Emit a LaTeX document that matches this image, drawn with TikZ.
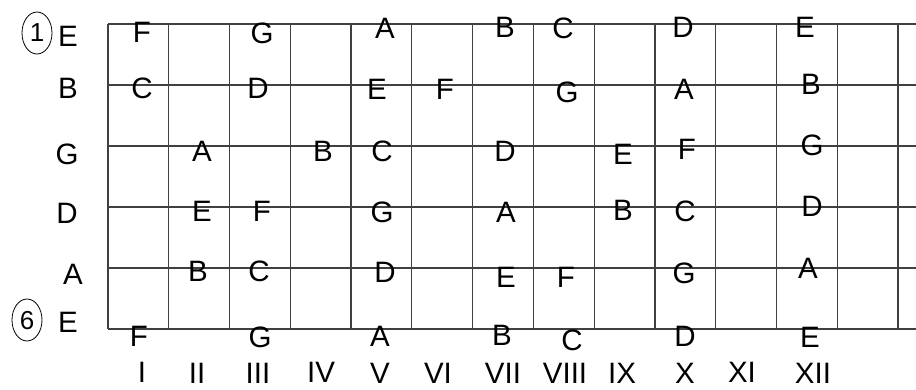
\documentclass[tikz,border=0pt]{standalone}
\usepackage{fontspec}
\setmainfont{Liberation Sans}
\begin{document}
\begin{tikzpicture}[x=1pt,y=-1pt,
  fret/.style={line width=1.2pt,draw=black!75},
  note/.style={inner sep=0pt,font=\fontsize{29.5}{29.5}\selectfont},
  strname/.style={inner sep=0pt,font=\fontsize{29.5}{29.5}\selectfont},
  num/.style={inner sep=0pt,font=\fontsize{26}{26}\selectfont},
  ring/.style={draw=black,line width=0.8pt}]
\useasboundingbox (0,0) rectangle (916,389);
% grid
\foreach \j in {0,...,5} \draw[fret] (108,24+61*\j) -- (916,24+61*\j);
\foreach \i in {0,...,13} \draw[fret] (108+60.77*\i,24) -- (108+60.77*\i,329);
% circled string numbers
\node[num] (one) at (37,33) {1};
\draw[ring] (37,33) ellipse [x radius=15, y radius=21];
\node[num] (six) at (27,321) {6};
\draw[ring] (27,320) ellipse [x radius=15, y radius=21];
% open strings
\node[strname] (s1) at (68,36) {E};
\node[strname] (s2) at (68,88) {B};
\node[strname] (s3) at (67,154) {G};
\node[strname] (s4) at (67,213) {D};
\node[strname] (s5) at (73,274) {A};
\node[strname] (s6) at (68,322) {E};
% row 1
\node[note] (r1a) at (142,32) {F};
\node[note] (r1b) at (262,33) {G};
\node[note] (r1c) at (385,28) {A};
\node[note] (r1d) at (505,27) {B};
\node[note] (r1e) at (563,28) {C};
\node[note] (r1f) at (683,27) {D};
\node[note] (r1g) at (805,27) {E};
% row 2
\node[note] (r2a) at (142,88) {C};
\node[note] (r2b) at (258,88) {D};
\node[note] (r2c) at (377,89) {E};
\node[note] (r2d) at (445,89) {F};
\node[note] (r2e) at (567,92) {G};
\node[note] (r2f) at (684,89) {A};
\node[note] (r2g) at (811,84) {B};
% row 3
\node[note] (r3a) at (202,151) {A};
\node[note] (r3b) at (323,151) {B};
\node[note] (r3c) at (382,151) {C};
\node[note] (r3d) at (505,151) {D};
\node[note] (r3e) at (623,154) {E};
\node[note] (r3f) at (687,149) {F};
\node[note] (r3g) at (812,145) {G};
% row 4
\node[note] (r4a) at (202,211) {E};
\node[note] (r4b) at (262,211) {F};
\node[note] (r4c) at (382,212) {G};
\node[note] (r4d) at (506,212) {A};
\node[note] (r4e) at (623,210) {B};
\node[note] (r4f) at (685,211) {C};
\node[note] (r4g) at (812,206) {D};
% row 5
\node[note] (r5a) at (198,271) {B};
\node[note] (r5b) at (259,271) {C};
\node[note] (r5c) at (385,272) {D};
\node[note] (r5d) at (506,277) {E};
\node[note] (r5e) at (566,277) {F};
\node[note] (r5f) at (684,273) {G};
\node[note] (r5g) at (808,268) {A};
% row 6
\node[note] (r6a) at (139,336) {F};
\node[note] (r6b) at (260,337) {G};
\node[note] (r6c) at (380,336) {A};
\node[note] (r6d) at (502,335) {B};
\node[note] (r6e) at (572,340) {C};
\node[note] (r6f) at (685,336) {D};
\node[note] (r6g) at (810,337) {E};
% fret numbers
\node[note] (f1) at (142,372) {I};
\node[note] (f2) at (197,373) {II};
\node[note] (f3) at (258,373) {III};
\node[note] (f4) at (321,372) {IV};
\node[note] (f5) at (380,373) {V};
\node[note] (f6) at (438,373) {VI};
\node[note] (f7) at (503,373) {VII};
\node[note] (f8) at (565,373) {VIII};
\node[note] (f9) at (622,373) {IX};
\node[note] (f10) at (685,373) {X};
\node[note] (f11) at (742,372) {XI};
\node[note] (f12) at (813,373) {XII};
\end{tikzpicture}
\end{document}
